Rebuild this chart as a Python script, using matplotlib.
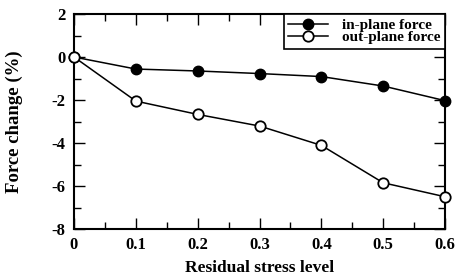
import matplotlib
matplotlib.use("Agg")
import matplotlib.pyplot as plt
from matplotlib.ticker import MultipleLocator

# data
stress_level = [0, 0.1, 0.2, 0.3, 0.4, 0.5, 0.6]
in_plane = [0, -0.56, -0.65, -0.77, -0.91, -1.35, -2.03]
out_plane = [0, -2.05, -2.67, -3.21, -4.11, -5.85, -6.5]

plt.rcParams['font.family'] = ['Liberation Serif', 'DejaVu Serif']
plt.rcParams['font.weight'] = 'bold'

fig = plt.figure(figsize=(4.55, 2.75), dpi=100)
ax = fig.add_axes([74 / 455, 1 - 229 / 275, 371 / 455, 215 / 275])

ax.plot(stress_level, in_plane, '-o', color='black', mfc='black',
        mec='black', ms=7.5, lw=1.1, label='in-plane force', clip_on=False,
        zorder=3)
ax.plot(stress_level, out_plane, '-o', color='black', mfc='white',
        mec='black', ms=7.5, mew=1.3, lw=1.1, label='out-plane force',
        clip_on=False, zorder=4)

ax.set_xlim(0, 0.6)
ax.set_ylim(-8, 2)
ax.xaxis.set_major_locator(MultipleLocator(0.1))
ax.xaxis.set_minor_locator(MultipleLocator(0.05))
ax.yaxis.set_major_locator(MultipleLocator(2))
ax.yaxis.set_minor_locator(MultipleLocator(1))
ax.xaxis.set_major_formatter(plt.FuncFormatter(
    lambda v, p: '0' if abs(v) < 1e-9 else '%.1f' % v))
ax.yaxis.set_major_formatter(plt.FuncFormatter(lambda v, p: '%d' % v))

ax.tick_params(which='both', direction='in', top=True, right=True,
               labelsize=12, width=1.0)
ax.tick_params(which='major', length=8, pad=6)
ax.tick_params(which='minor', length=5)
for s in ax.spines.values():
    s.set_linewidth(1.5)

ax.set_xlabel('Residual stress level', fontsize=12.5, fontweight='bold')
ax.set_ylabel('Force change (%)', fontsize=13.5, fontweight='bold')
ax.xaxis.set_label_coords(0.5, -0.144)
ax.yaxis.set_label_coords(-0.137, 0.5)

leg = ax.legend(loc='upper right', fontsize=11, frameon=True, fancybox=False,
                edgecolor='black', borderaxespad=0, handlelength=2.6,
                handletextpad=0.9, borderpad=0.3, labelspacing=-0.1,
                framealpha=1)
leg.get_frame().set_linewidth(1.2)
for t in leg.get_texts():
    t.set_fontweight('bold')

fig.savefig('out.png', dpi=100)
